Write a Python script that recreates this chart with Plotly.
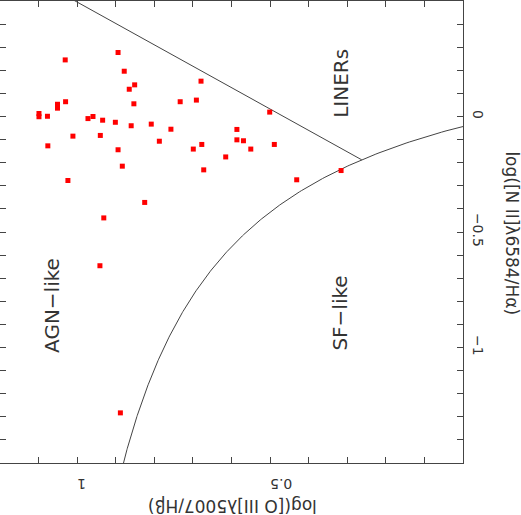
import numpy as np
import plotly.graph_objects as go

# Galaxies: log([O III]/Hb) and log([N II]/Ha)
log_oiii = [0.894, 1.031, 0.878, 0.679, 0.851, 0.865, 0.733, 0.691, 1.030, 1.051,
            1.051, 0.853, 0.501, 1.099, 1.099, 1.077, 0.972, 0.959, 0.934, 0.901,
            0.808, 0.860, 0.757, 0.586, 1.011, 0.940, 0.586, 0.569, 0.787, 0.489,
            0.677, 1.076, 0.894, 0.699, 0.550, 0.615, 0.883, 0.672, 0.316, 0.431,
            1.024, 0.825, 0.931, 0.941, 0.888]
log_nii = [0.277, 0.245, 0.196, 0.153, 0.137, 0.118, 0.064, 0.071, 0.064, 0.053,
           0.036, 0.055, 0.019, 0.013, -0.001, 0.001, -0.009, 0.000, -0.016, -0.025,
           -0.033, -0.040, -0.055, -0.056, -0.085, -0.082, -0.101, -0.105, -0.107, -0.121,
           -0.121, -0.127, -0.144, -0.141, -0.141, -0.175, -0.215, -0.231, -0.234, -0.274,
           -0.277, -0.372, -0.439, -0.646, -1.283]

x_ticks = [1, 0.5]
x_ticktext = ['1', '0.5']
y_ticks = [0, -0.5, -1]
y_ticktext = ['0', '−0.5', '−1']

# region labels: (text, log_oiii, log_nii)
regions = [('AGN−like', 1.064, -0.818), ('SF−like', 0.318, -0.852), ('LINERs', 0.316, 0.142)]

# Kewley et al. (2001) maximum starburst line
def kewley(n):
    return 0.61 / (n - 0.47) + 1.19

# Seyfert / LINER division: oiii = a * nii + b
LINER_A, LINER_B = 1.08, 0.465
roots = np.roots([LINER_A, LINER_B - 1.19 - LINER_A * 0.47, -(LINER_B - 1.19) * 0.47 - 0.61])
n_cross = float(min(roots.real))

nk = np.linspace(-1.6, -0.02, 300)
nl = np.array([n_cross, 0.55])

LINE = '#444'
FONT = 'DejaVu Sans'
TXT = '#333'

fig = go.Figure()
fig.add_trace(go.Scatter(x=kewley(nk), y=nk, mode='lines',
                         line=dict(color=LINE, width=1), hoverinfo='skip'))
fig.add_trace(go.Scatter(x=LINER_A * nl + LINER_B, y=nl, mode='lines',
                         line=dict(color=LINE, width=1), hoverinfo='skip'))
fig.add_trace(go.Scatter(x=log_oiii, y=log_nii, mode='markers',
                         marker=dict(symbol='square', size=5, color='#ff0000',
                                     line=dict(width=0))))

for text, xo, yn in regions:
    fig.add_annotation(x=xo, y=yn, text=text, showarrow=False, textangle=-90,
                       xanchor='center', yanchor='middle',
                       font=dict(family=FONT, size=20, color=TXT))

# axis titles, rotated like the source image
fig.add_annotation(xref='paper', yref='paper', x=0.502, y=-0.093,
                   xanchor='center', yanchor='middle',
                   text='log([O III]λ5007/Hβ)', showarrow=False, textangle=180,
                   font=dict(family=FONT, size=17, color=TXT))
fig.add_annotation(xref='paper', yref='paper', x=1.107, y=0.498,
                   xanchor='center', yanchor='middle',
                   text='log([N II]λ6584/Hα)', showarrow=False, textangle=90,
                   font=dict(family=FONT, size=17, color=TXT))

axis_common = dict(showgrid=False, zeroline=False, showline=True, linecolor=LINE,
                   linewidth=1, mirror='ticks', ticks='inside', ticklen=6,
                   tickcolor=LINE, automargin=False,
                   tickfont=dict(family=FONT, size=14, color=TXT),
                   minor=dict(dtick=0.1, ticks='inside', ticklen=6, tickcolor=LINE))

fig.update_layout(
    width=521, height=515,
    margin=dict(l=0, r=58, t=1, b=52),
    plot_bgcolor='white', paper_bgcolor='white',
    showlegend=False,
    xaxis=dict(range=[1.2, 0.0], tickvals=x_ticks, ticktext=x_ticktext,
               tickangle=180, ticklabelstandoff=12, **axis_common),
    yaxis=dict(range=[-1.5, 0.5], tickvals=y_ticks, ticktext=y_ticktext,
               side='right', tickangle=90, ticklabelstandoff=3, **axis_common),
)

# page body margin would shift the figure by 8px
fig.write_html("out.html", config={'displayModeBar': False},
               post_script="document.body.style.margin='0';")
